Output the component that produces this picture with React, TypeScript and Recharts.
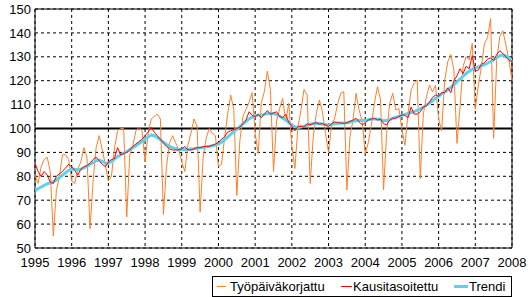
import React from 'react';
import { LineChart, Line, XAxis, YAxis, CartesianGrid, ReferenceLine, ReferenceArea, Legend } from 'recharts';

const START_YEAR = 1995;
const yearTicks = [1995, 1996, 1997, 1998, 1999, 2000, 2001, 2002, 2003, 2004, 2005, 2006, 2007, 2008];
const valueTicks = [50, 60, 70, 80, 90, 100, 110, 120, 130, 140, 150];
const seriesNames = ['Työpäiväkorjattu', 'Kausitasoitettu', 'Trendi'];

// monthly values from Jan 1995
const tyopaivakorjattu = [
  80.5, 77, 84, 87, 88, 82, 55, 74, 80, 89, 89, 87,
  78, 77, 83, 86, 92, 88, 58, 78, 92, 97, 91, 85,
  78, 80, 92, 99, 100, 100, 63, 89, 93, 99, 100.5, 99,
  86, 98, 104, 105, 106, 104, 64, 84, 94, 97, 94, 91,
  86, 82, 93, 98, 104, 101, 65, 88, 96, 100, 98, 97,
  84, 85, 96, 106, 114, 108, 72, 95, 105, 108, 111, 115,
  98, 89.6, 110.5, 115.4, 124, 116, 82, 103, 108.4, 112.6, 103, 110.5,
  92.4, 83.3, 100.8, 107.7, 116.4, 114, 77, 96.6, 106.3, 111.9, 107, 98,
  90, 101.5, 104.2, 110.5, 114.7, 115.4, 74.3, 96.6, 103.6, 114.7, 107.7, 103,
  89.5, 94, 101.5, 110.5, 117.5, 112, 74.3, 98, 110.5, 114.7, 107.7, 108.4,
  99.4, 93, 106.4, 116.1, 118.9, 120.3, 79, 106, 113.3, 118.2, 115.4, 118,
  104, 99, 120.3, 128, 131, 124.5, 93.8, 109.1, 125.9, 130, 128.7, 135.6,
  108, 118.2, 125.9, 135.6, 138, 146, 95.9, 128.7, 138.4, 140.9, 135, 128.7,
  120,
];

const kausitasoitettu = [
  85.6, 82, 80, 82, 80.5, 77.5, 77, 80, 81, 82, 83.5, 85,
  84, 82.5, 80.5, 83, 84, 84.5, 85.5, 87, 88, 86.5, 85, 84,
  86, 87, 87.5, 92, 89, 89.5, 90, 91, 92.5, 93.5, 94.5, 95.5,
  97, 98.5, 100.5, 98.5, 97, 95.5, 94, 92.5, 91.5, 91, 91, 91,
  91.5, 92.5, 91, 91, 91.5, 92, 92, 92.4, 92.5, 92.6, 93, 93.5,
  94.2, 95.5, 96.5, 98.5, 99, 99.5, 100, 100.5, 102, 103.5, 107, 105.5,
  105, 106, 104.5, 106, 107.5, 106, 106.5, 107, 105, 104.5, 106, 102.5,
  101, 99, 100.8, 101, 100.5, 102, 101.5, 102, 102.5, 101.8, 102, 101.5,
  100.8, 102, 102.8, 102.5, 102.2, 102.2, 102.3, 103, 103.5, 104.3, 102.8, 101.5,
  102.5, 103.5, 104, 104.2, 103.5, 104, 102, 101.5, 103.5, 104.3, 104.3, 105,
  105.7, 105.5, 104.5, 109, 106, 106, 107, 109, 109.5, 111, 113, 114,
  113.5, 115, 115, 117, 115, 120, 122, 125, 123, 126, 125, 130.5,
  124, 124.5, 127, 127.5, 129, 129.5, 128.5, 131, 132.5, 131.5, 130, 128.5,
  128,
];

const trendi = [
  74, 74.8, 75.5, 76.2, 76.8, 77.3, 77.8, 78.5, 79.5, 80.5, 81.5, 82.5,
  83, 83, 82.8, 83, 83.5, 84.2, 85, 85.8, 86.5, 86.8, 86.3, 85.5,
  85.5, 86.2, 87.2, 88.2, 89, 89.7, 90.4, 91.2, 92, 92.8, 93.7, 94.6,
  95.5, 96.5, 97.3, 97, 96.2, 95.3, 94.3, 93.3, 92.5, 92, 91.6, 91.3,
  91.2, 91.2, 91.3, 91.4, 91.5, 91.7, 91.9, 92.1, 92.3, 92.5, 92.8, 93.1,
  93.6, 94.3, 95.3, 96.4, 97.5, 98.6, 99.7, 100.8, 101.9, 103, 104, 104.8,
  105.3, 105.5, 105.6, 105.9, 106.2, 106.3, 106.2, 105.8, 105.2, 104.4, 103.5, 102.5,
  101.5, 100.7, 100.4, 100.6, 101, 101.4, 101.8, 102.1, 102.2, 102.1, 101.9, 101.7,
  101.6, 101.7, 102, 102.2, 102.3, 102.3, 102.4, 102.7, 103, 103.2, 103.3, 103.4,
  103.5, 103.7, 103.9, 104, 104, 103.6, 103.2, 103.3, 103.7, 104.2, 104.7, 105.1,
  105.5, 105.9, 106.3, 106.7, 107.1, 107.6, 108.2, 108.9, 109.7, 110.6, 111.6, 112.6,
  113.5, 114.4, 115.3, 116.2, 117.2, 118.3, 119.5, 120.7, 121.9, 123, 124, 124.8,
  125.4, 125.8, 126.2, 126.7, 127.3, 128, 128.8, 129.7, 130.5, 130.7, 130.3, 129.6,
  128.8,
];

const COLORS = ['#FF7F27', '#FF0000', '#5AD2F0'];
const FONT = '"Liberation Sans", Arial, sans-serif';

const data = tyopaivakorjattu.map((v, i) => ({
  x: START_YEAR + i / 12,
  t: v,
  k: kausitasoitettu[i],
  tr: trendi[i],
}));

const LegendBox = () => (
  <svg width={300} height={21} style={{ display: 'block' }}>
    <rect x={0.5} y={0.5} width={299} height={20} fill="#fff" stroke="#000" />
    <line x1={5} x2={14} y1={10.5} y2={10.5} stroke={COLORS[0]} strokeWidth={1} />
    <text x={18} y={15} fontSize={13} fontFamily={FONT} fill="#000">{seriesNames[0]}</text>
    <line x1={129} x2={140} y1={10.5} y2={10.5} stroke={COLORS[1]} strokeWidth={1} />
    <text x={141} y={15} fontSize={13} fontFamily={FONT} fill="#000">{seriesNames[1]}</text>
    <line x1={242} x2={256} y1={10.5} y2={10.5} stroke={COLORS[2]} strokeWidth={3} />
    <text x={257} y={15} fontSize={13} fontFamily={FONT} fill="#000">{seriesNames[2]}</text>
  </svg>
);

export default function App() {
  return (
    <div style={{ position: 'absolute', left: 0, top: 0, width: 528, height: 297, background: '#fff' }}>
      <LineChart width={528} height={297} data={data} margin={{ top: 9, right: 16, bottom: 0, left: 0 }}>
        <CartesianGrid stroke="#000" strokeDasharray="3 3" horizontal vertical />
        <XAxis
          dataKey="x"
          type="number"
          domain={[1995, 2008]}
          ticks={yearTicks}
          interval={0}
          tickLine={false}
          axisLine={false}
          tickSize={0}
          tickMargin={10}
          height={28}
          tick={{ fontSize: 13, fill: '#000', fontFamily: FONT }}
          allowDataOverflow
        />
        <YAxis
          type="number"
          domain={[50, 150]}
          ticks={valueTicks}
          interval={0}
          tickLine={false}
          axisLine={false}
          tickSize={0}
          tickMargin={4}
          width={35}
          tick={{ fontSize: 13, fill: '#000', fontFamily: FONT }}
          allowDataOverflow
        />
        <ReferenceLine y={100} stroke="#000" strokeWidth={2} />
        <Line type="linear" dataKey="t" name={seriesNames[0]} stroke={COLORS[0]} strokeWidth={1} dot={false} isAnimationActive={false} />
        <Line type="linear" dataKey="tr" name={seriesNames[2]} stroke={COLORS[2]} strokeWidth={3} dot={false} isAnimationActive={false} />
        <Line type="linear" dataKey="k" name={seriesNames[1]} stroke={COLORS[1]} strokeWidth={1} dot={false} isAnimationActive={false} />
        <ReferenceArea x1={1995} x2={2008} y1={50} y2={150} fill="none" fillOpacity={0} stroke="#000" strokeWidth={1} />
        <Legend
          verticalAlign="bottom"
          align="right"
          content={() => <LegendBox />}
          wrapperStyle={{ position: 'absolute', left: 212, top: 276, width: 300, height: 21, right: 'auto', bottom: 'auto' }}
        />
      </LineChart>
    </div>
  );
}
